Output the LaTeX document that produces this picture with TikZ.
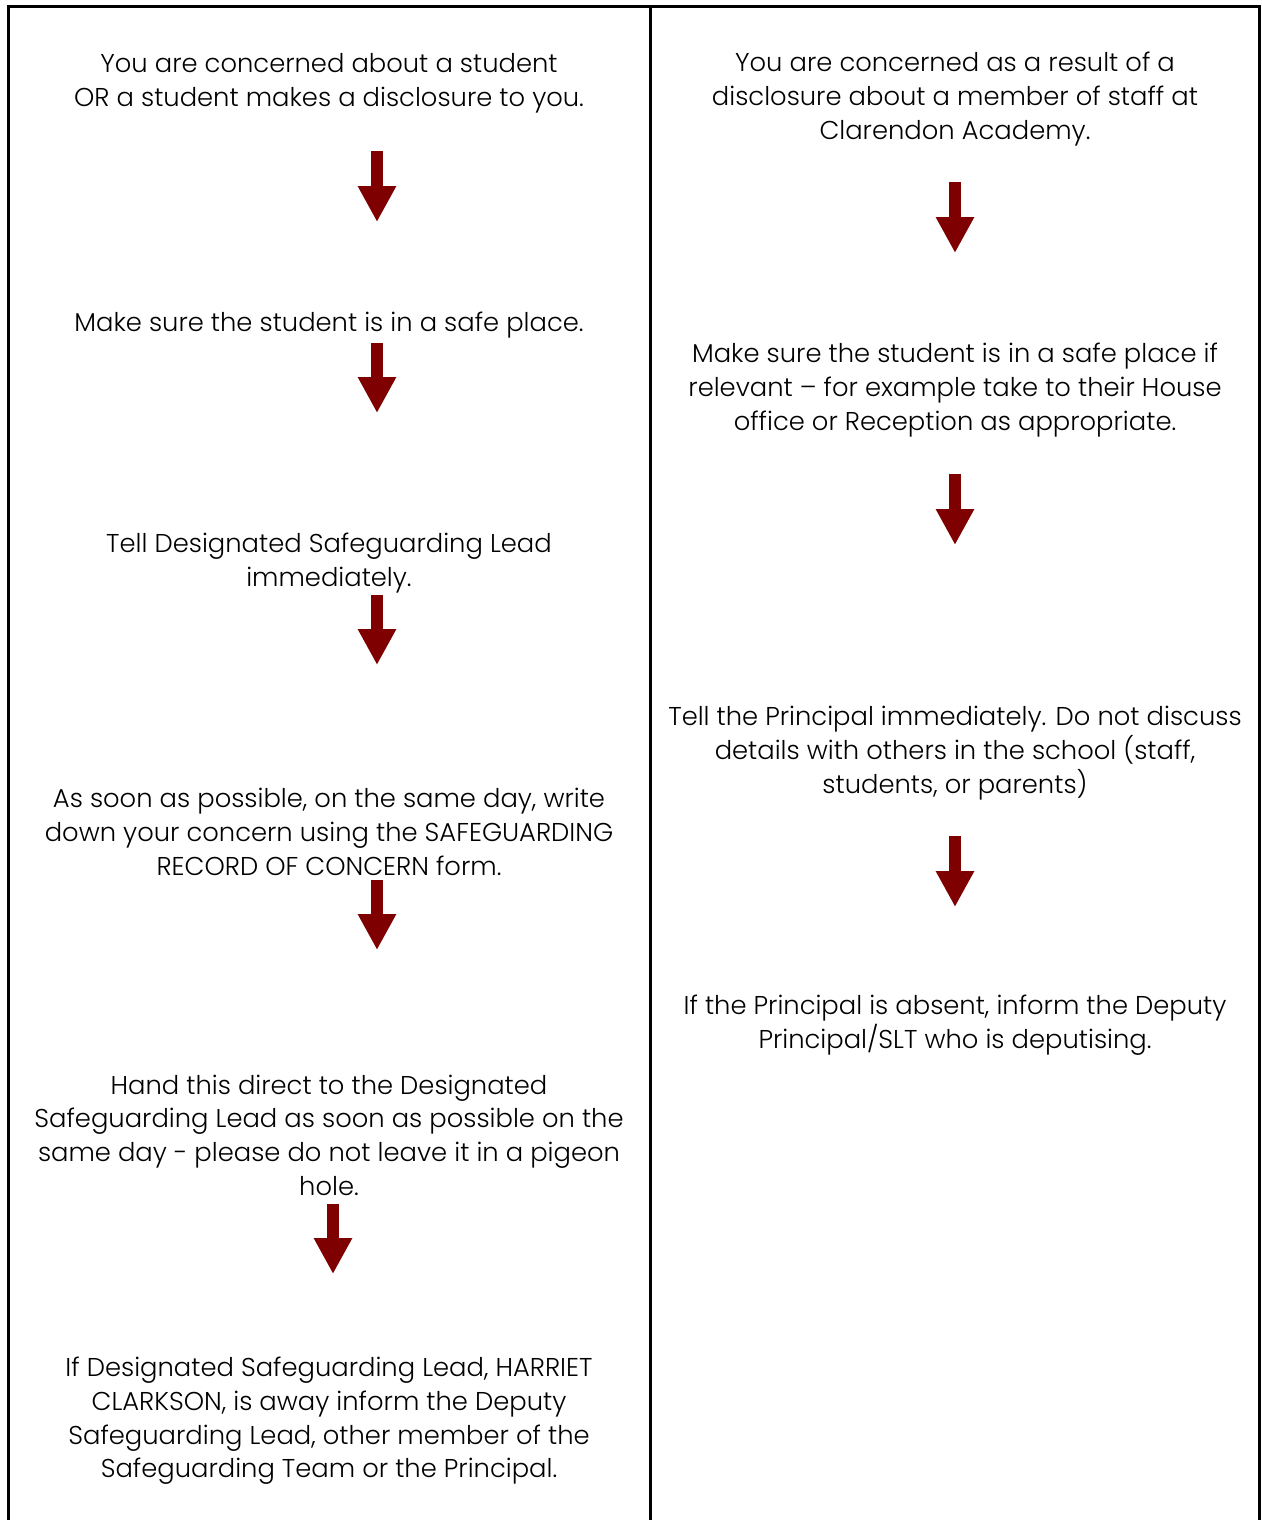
\documentclass[tikz,border=0pt]{standalone}
\usepackage{fontspec}
\setmainfont{Poppins}[UprightFont=* Light]
\usetikzlibrary{arrows.meta}
\definecolor{arrowred}{HTML}{7F0000}
\tikzset{
  frame/.style={line width=3pt, line cap=rect},
  txt/.style={align=center, inner sep=0pt, font=\fontsize{25.8}{33.7}\selectfont},
  blockarrow/.style={arrowred, line width=12pt, line cap=butt,
    -{Triangle[width=36pt,length=36pt]}}
}
\begin{document}
\begin{tikzpicture}[x=1pt,y=-1pt]
\useasboundingbox (0,0) rectangle (1261,1520);
% frame
\coordinate (tl) at (8,7);
\coordinate (tr) at (1259,7);
\coordinate (tm) at (650,7);
\coordinate (bl) at (8,1522);
\coordinate (bm) at (650,1522);
\coordinate (br) at (1259,1522);
\draw[frame] (bl) -- (tl) -- (tr) -- (br);
\draw[frame] (tm) -- (bm);
% left column
\node[txt] (l1) at (329,83) {You are concerned about a student\\OR a student makes a disclosure to you.};
\node[txt] (l2) at (329,325) {Make sure the student is in a safe place.};
\node[txt] (l3) at (329,563) {Tell Designated Safeguarding Lead\\immediately.};
\node[txt] (l4) at (329,832) {As soon as possible, on the same day, write\\down your concern using the SAFEGUARDING\\RECORD OF CONCERN form.};
\node[txt] (l5) at (329,1135) {Hand this direct to the Designated\\Safeguarding Lead as soon as possible on the\\same day - please do not leave it in a pigeon\\hole.};
\node[txt] (l6) at (329,1421) {If Designated Safeguarding Lead, HARRIET\\CLARKSON, is away inform the Deputy\\Safeguarding Lead, other member of the\\Safeguarding Team or the Principal.};
% right column
\node[txt] (r1) at (955,99) {You are concerned as a result of a\\disclosure about a member of staff at\\Clarendon Academy.};
\node[txt] (r2) at (955,390) {Make sure the student is in a safe place if\\relevant -- for example take to their House\\office or Reception as appropriate.};
\node[txt] (r3) at (955,753) {Tell the Principal immediately. Do not discuss\\details with others in the school (staff,\\students, or parents)};
\node[txt] (r4) at (955,1025) {If the Principal is absent, inform the Deputy\\Principal/SLT who is deputising.};
% arrows
\coordinate (a1s) at (377,151); \coordinate (a1e) at (377,222);
\coordinate (a2s) at (377,343); \coordinate (a2e) at (377,413);
\coordinate (a3s) at (377,595); \coordinate (a3e) at (377,665);
\coordinate (a4s) at (377,880); \coordinate (a4e) at (377,950);
\coordinate (a5s) at (333,1204); \coordinate (a5e) at (333,1274);
\coordinate (b1s) at (955,182); \coordinate (b1e) at (955,253);
\coordinate (b2s) at (955,474); \coordinate (b2e) at (955,545);
\coordinate (b3s) at (955,836); \coordinate (b3e) at (955,907);
\foreach \s/\e in {a1s/a1e,a2s/a2e,a3s/a3e,a4s/a4e,a5s/a5e,b1s/b1e,b2s/b2e,b3s/b3e}
  \draw[blockarrow] (\s) -- (\e);
\end{tikzpicture}
\end{document}
